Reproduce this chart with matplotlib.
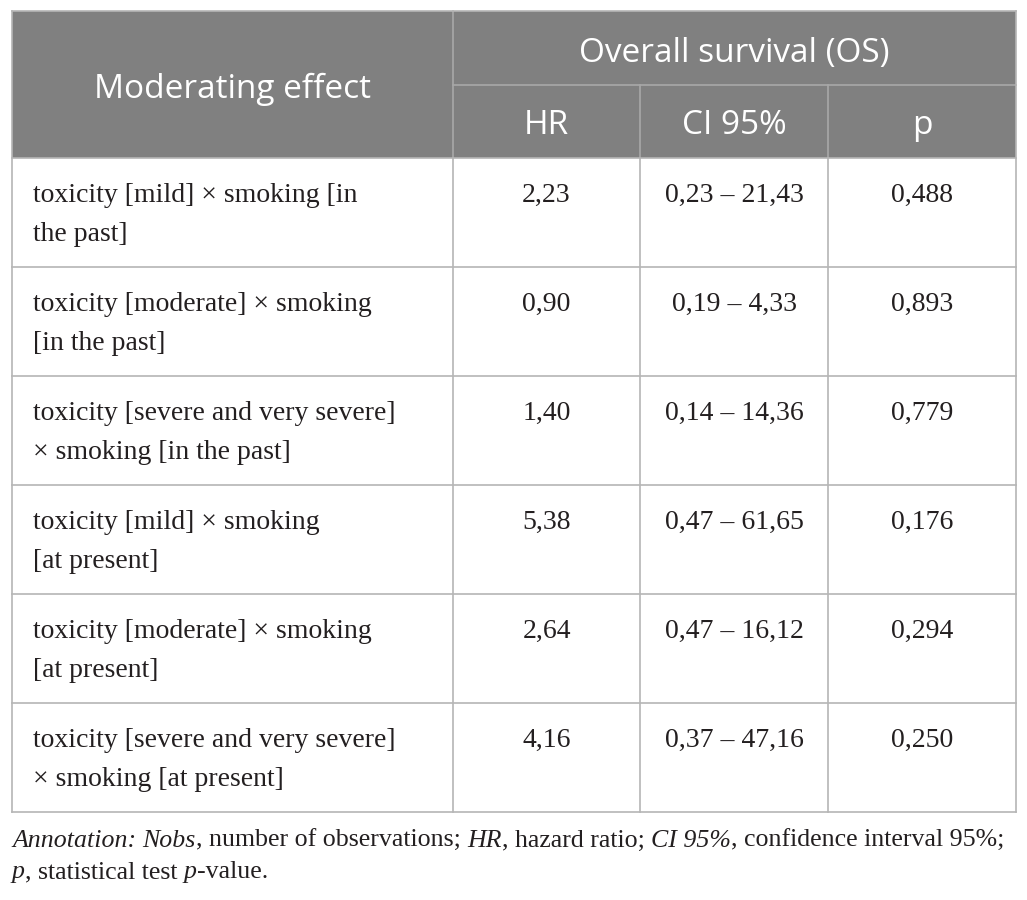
import matplotlib.pyplot as plt
from matplotlib.patches import Rectangle

# table content
row_labels = [
    ['toxicity [mild] \u00d7 smoking [in', 'the past]'],
    ['toxicity [moderate] \u00d7 smoking', '[in the past]'],
    ['toxicity [severe and very severe]', '\u00d7 smoking [in the past]'],
    ['toxicity [mild] \u00d7 smoking', '[at present]'],
    ['toxicity [moderate] \u00d7 smoking', '[at present]'],
    ['toxicity [severe and very severe]', '\u00d7 smoking [at present]'],
]
hr = ['2,23', '0,90', '1,40', '5,38', '2,64', '4,16']
ci = ['0,23 \u2013 21,43', '0,19 \u2013 4,33', '0,14 \u2013 14,36',
      '0,47 \u2013 61,65', '0,47 \u2013 16,12', '0,37 \u2013 47,16']
p_values = ['0,488', '0,893', '0,779', '0,176', '0,294', '0,250']
sub_headers = ['HR', 'CI 95%', 'p']

note_line1 = [('Annotation:', 'italic'), (' ', 'normal'), ('Nobs', 'italic'),
              (', number of observations; ', 'normal'), ('HR', 'italic'),
              (', hazard ratio; ', 'normal'), ('CI 95%', 'italic'),
              (', confidence interval 95%;', 'normal')]
note_line2 = [('p', 'italic'), (', statistical test ', 'normal'), ('p', 'italic'),
              ('-value.', 'normal')]

head_col = '#808080'
line_col = '#b5b5b5'
text_col = '#231f20'
serif = 'Liberation Serif'
sans = 'Open Sans'

fig = plt.figure(figsize=(10.27, 9.0), dpi=100)
ax = fig.add_axes([0, 0, 1, 1])
ax.set_xlim(0, 1027)
ax.set_ylim(900, 0)
ax.axis('off')

col_x = [12, 453, 640, 828, 1016]
top, head_mid, head_bot, row_h = 11, 85, 158, 109
bottom = head_bot + row_h * len(row_labels)

# header block
ax.add_patch(Rectangle((col_x[0], top), col_x[-1] - col_x[0], head_bot - top,
                       facecolor=head_col, edgecolor='none'))
ax.plot([col_x[1], col_x[-1]], [head_mid, head_mid], color='#a8a8a8', lw=1.2)
ax.plot([col_x[1], col_x[1]], [top, head_bot], color='#a8a8a8', lw=1.2)
for x in col_x[2:4]:
    ax.plot([x, x], [head_mid, head_bot], color='#a8a8a8', lw=1.2)

ax.text((col_x[0] + col_x[1]) / 2, 98, 'Moderating effect',
        family=sans, fontsize=24, color='white', ha='center', va='baseline')
ax.text((col_x[1] + col_x[-1]) / 2, 62, 'Overall survival (OS)',
        family=sans, fontsize=24, color='white', ha='center', va='baseline')
for i, h in enumerate(sub_headers):
    ax.text((col_x[i + 1] + col_x[i + 2]) / 2, 134, h,
            family=sans, fontsize=24, color='white', ha='center', va='baseline')

# body grid
for i in range(len(row_labels) + 1):
    y = head_bot + i * row_h
    ax.plot([col_x[0], col_x[-1]], [y, y], color=line_col, lw=1.2)
for x in col_x:
    ax.plot([x, x], [head_bot if x not in (col_x[0], col_x[-1]) else top, bottom],
            color=line_col, lw=1.2)
ax.plot([col_x[0], col_x[-1]], [top, top], color=line_col, lw=1.2)

# body text
for i, lab in enumerate(row_labels):
    y0 = head_bot + i * row_h
    for j, ln in enumerate(lab):
        ax.text(33, y0 + 44 + j * 39, ln, family=serif, fontsize=20,
                color=text_col, ha='left', va='baseline')
    for k, val in enumerate([hr[i], ci[i], p_values[i]]):
        ax.text((col_x[k + 1] + col_x[k + 2]) / 2, y0 + 44, val, family=serif,
                fontsize=20, color=text_col, ha='center', va='baseline')

# annotation with mixed styles
fig.canvas.draw()
renderer = fig.canvas.get_renderer()


def draw_runs(runs, x, y):
    for txt, style in runs:
        t = ax.text(x, y, txt, family=serif, fontstyle=style, fontsize=18.6,
                    color=text_col, ha='left', va='baseline')
        x += t.get_window_extent(renderer).width


draw_runs(note_line1, 12, 847)
draw_runs(note_line2, 12, 878)

fig.savefig('out.png', dpi=100)
